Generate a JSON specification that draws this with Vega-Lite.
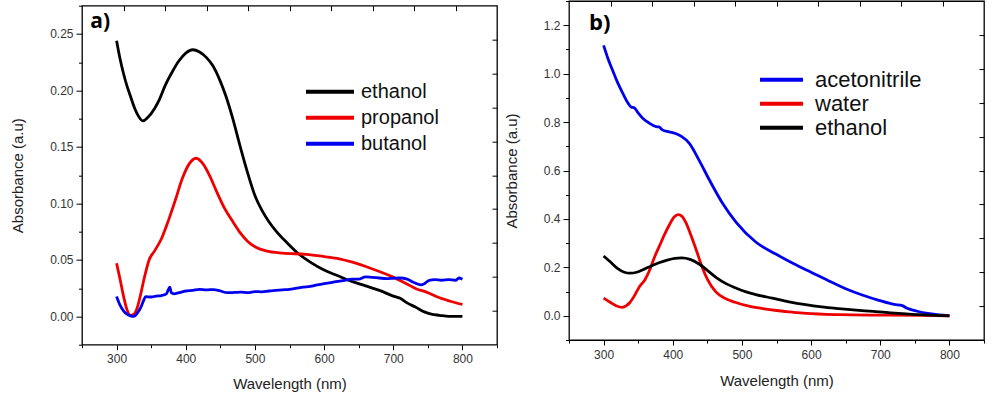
{
  "$schema": "https://vega.github.io/schema/vega-lite/v6.json",
  "background": "white",
  "padding": {"left": 9, "top": -1, "right": 0, "bottom": 0},
  "spacing": 4,
  "center": true,
  "datasets": {
    "left": [
      {"w": 300, "a": 0.244, "s": "ethanol"}, {"w": 305, "a": 0.228, "s": "ethanol"}, {"w": 310, "a": 0.215, "s": "ethanol"},
      {"w": 315, "a": 0.204, "s": "ethanol"}, {"w": 320, "a": 0.195, "s": "ethanol"}, {"w": 325, "a": 0.186, "s": "ethanol"},
      {"w": 330, "a": 0.179, "s": "ethanol"}, {"w": 338, "a": 0.173, "s": "ethanol"}, {"w": 345, "a": 0.176, "s": "ethanol"},
      {"w": 355, "a": 0.184, "s": "ethanol"}, {"w": 362, "a": 0.192, "s": "ethanol"}, {"w": 370, "a": 0.204, "s": "ethanol"},
      {"w": 381, "a": 0.217, "s": "ethanol"}, {"w": 390, "a": 0.226, "s": "ethanol"}, {"w": 400, "a": 0.233, "s": "ethanol"},
      {"w": 410, "a": 0.236, "s": "ethanol"}, {"w": 420, "a": 0.234, "s": "ethanol"}, {"w": 430, "a": 0.229, "s": "ethanol"},
      {"w": 439, "a": 0.222, "s": "ethanol"}, {"w": 450, "a": 0.208, "s": "ethanol"}, {"w": 458, "a": 0.195, "s": "ethanol"},
      {"w": 468, "a": 0.175, "s": "ethanol"}, {"w": 478, "a": 0.152, "s": "ethanol"}, {"w": 490, "a": 0.126, "s": "ethanol"},
      {"w": 500, "a": 0.107, "s": "ethanol"}, {"w": 510, "a": 0.094, "s": "ethanol"}, {"w": 520, "a": 0.084, "s": "ethanol"},
      {"w": 530, "a": 0.076, "s": "ethanol"}, {"w": 545, "a": 0.066, "s": "ethanol"}, {"w": 560, "a": 0.057, "s": "ethanol"},
      {"w": 580, "a": 0.048, "s": "ethanol"}, {"w": 600, "a": 0.041, "s": "ethanol"}, {"w": 620, "a": 0.036, "s": "ethanol"},
      {"w": 640, "a": 0.031, "s": "ethanol"}, {"w": 660, "a": 0.027, "s": "ethanol"}, {"w": 680, "a": 0.023, "s": "ethanol"},
      {"w": 700, "a": 0.018, "s": "ethanol"}, {"w": 710, "a": 0.016, "s": "ethanol"}, {"w": 720, "a": 0.012, "s": "ethanol"},
      {"w": 733, "a": 0.008, "s": "ethanol"}, {"w": 745, "a": 0.004, "s": "ethanol"}, {"w": 755, "a": 0.002, "s": "ethanol"},
      {"w": 767, "a": 0.001, "s": "ethanol"}, {"w": 780, "a": 0.0, "s": "ethanol"}, {"w": 800, "a": 0.0, "s": "ethanol"},

      {"w": 300, "a": 0.047, "s": "propanol"}, {"w": 305, "a": 0.033, "s": "propanol"}, {"w": 310, "a": 0.018, "s": "propanol"},
      {"w": 315, "a": 0.006, "s": "propanol"}, {"w": 320, "a": 0.001, "s": "propanol"}, {"w": 325, "a": 0.002, "s": "propanol"},
      {"w": 330, "a": 0.008, "s": "propanol"}, {"w": 335, "a": 0.020, "s": "propanol"}, {"w": 340, "a": 0.034, "s": "propanol"},
      {"w": 347, "a": 0.050, "s": "propanol"}, {"w": 355, "a": 0.058, "s": "propanol"}, {"w": 365, "a": 0.069, "s": "propanol"},
      {"w": 375, "a": 0.085, "s": "propanol"}, {"w": 385, "a": 0.103, "s": "propanol"}, {"w": 395, "a": 0.122, "s": "propanol"},
      {"w": 405, "a": 0.135, "s": "propanol"}, {"w": 415, "a": 0.140, "s": "propanol"}, {"w": 425, "a": 0.135, "s": "propanol"},
      {"w": 435, "a": 0.124, "s": "propanol"}, {"w": 445, "a": 0.110, "s": "propanol"}, {"w": 455, "a": 0.097, "s": "propanol"},
      {"w": 468, "a": 0.084, "s": "propanol"}, {"w": 480, "a": 0.073, "s": "propanol"}, {"w": 490, "a": 0.066, "s": "propanol"},
      {"w": 502, "a": 0.061, "s": "propanol"}, {"w": 516, "a": 0.058, "s": "propanol"}, {"w": 540, "a": 0.056, "s": "propanol"},
      {"w": 574, "a": 0.055, "s": "propanol"}, {"w": 600, "a": 0.053, "s": "propanol"}, {"w": 622, "a": 0.051, "s": "propanol"},
      {"w": 641, "a": 0.048, "s": "propanol"}, {"w": 670, "a": 0.042, "s": "propanol"}, {"w": 699, "a": 0.035, "s": "propanol"},
      {"w": 719, "a": 0.029, "s": "propanol"}, {"w": 733, "a": 0.0245, "s": "propanol"}, {"w": 748, "a": 0.0215, "s": "propanol"},
      {"w": 767, "a": 0.0165, "s": "propanol"}, {"w": 785, "a": 0.013, "s": "propanol"}, {"w": 800, "a": 0.0106, "s": "propanol"},

      {"w": 300, "a": 0.0177, "s": "butanol"}, {"w": 305, "a": 0.010, "s": "butanol"}, {"w": 310, "a": 0.005, "s": "butanol"},
      {"w": 315, "a": 0.002, "s": "butanol"}, {"w": 320, "a": 0.0005, "s": "butanol"}, {"w": 325, "a": 0.0, "s": "butanol"},
      {"w": 330, "a": 0.003, "s": "butanol"}, {"w": 335, "a": 0.008, "s": "butanol"}, {"w": 339, "a": 0.014, "s": "butanol"},
      {"w": 342, "a": 0.0175, "s": "butanol"}, {"w": 350, "a": 0.0172, "s": "butanol"}, {"w": 357, "a": 0.018, "s": "butanol"},
      {"w": 365, "a": 0.0185, "s": "butanol"}, {"w": 372, "a": 0.020, "s": "butanol"}, {"w": 375, "a": 0.024, "s": "butanol"},
      {"w": 377, "a": 0.026, "s": "butanol"}, {"w": 379, "a": 0.021, "s": "butanol"}, {"w": 383, "a": 0.020, "s": "butanol"},
      {"w": 390, "a": 0.021, "s": "butanol"}, {"w": 400, "a": 0.0225, "s": "butanol"}, {"w": 410, "a": 0.023, "s": "butanol"},
      {"w": 420, "a": 0.024, "s": "butanol"}, {"w": 430, "a": 0.0235, "s": "butanol"}, {"w": 440, "a": 0.0238, "s": "butanol"},
      {"w": 450, "a": 0.0225, "s": "butanol"}, {"w": 460, "a": 0.021, "s": "butanol"}, {"w": 470, "a": 0.0212, "s": "butanol"},
      {"w": 480, "a": 0.0215, "s": "butanol"}, {"w": 490, "a": 0.021, "s": "butanol"}, {"w": 500, "a": 0.022, "s": "butanol"},
      {"w": 510, "a": 0.0218, "s": "butanol"}, {"w": 520, "a": 0.0225, "s": "butanol"}, {"w": 530, "a": 0.023, "s": "butanol"},
      {"w": 540, "a": 0.0235, "s": "butanol"}, {"w": 550, "a": 0.024, "s": "butanol"}, {"w": 560, "a": 0.025, "s": "butanol"},
      {"w": 570, "a": 0.026, "s": "butanol"}, {"w": 580, "a": 0.0265, "s": "butanol"}, {"w": 590, "a": 0.028, "s": "butanol"},
      {"w": 600, "a": 0.029, "s": "butanol"}, {"w": 610, "a": 0.030, "s": "butanol"}, {"w": 620, "a": 0.031, "s": "butanol"},
      {"w": 630, "a": 0.032, "s": "butanol"}, {"w": 640, "a": 0.033, "s": "butanol"}, {"w": 650, "a": 0.033, "s": "butanol"},
      {"w": 660, "a": 0.035, "s": "butanol"}, {"w": 670, "a": 0.0345, "s": "butanol"}, {"w": 680, "a": 0.034, "s": "butanol"},
      {"w": 690, "a": 0.0335, "s": "butanol"}, {"w": 700, "a": 0.0338, "s": "butanol"}, {"w": 710, "a": 0.034, "s": "butanol"},
      {"w": 720, "a": 0.033, "s": "butanol"}, {"w": 730, "a": 0.030, "s": "butanol"}, {"w": 740, "a": 0.028, "s": "butanol"},
      {"w": 745, "a": 0.029, "s": "butanol"}, {"w": 752, "a": 0.032, "s": "butanol"}, {"w": 760, "a": 0.0325, "s": "butanol"},
      {"w": 770, "a": 0.032, "s": "butanol"}, {"w": 780, "a": 0.0325, "s": "butanol"}, {"w": 790, "a": 0.032, "s": "butanol"},
      {"w": 795, "a": 0.034, "s": "butanol"}, {"w": 800, "a": 0.033, "s": "butanol"}
    ],
    "right": [
      {"w": 300, "a": 1.117, "s": "acetonitrile"}, {"w": 306, "a": 1.065, "s": "acetonitrile"}, {"w": 313, "a": 1.014, "s": "acetonitrile"},
      {"w": 320, "a": 0.965, "s": "acetonitrile"}, {"w": 328, "a": 0.918, "s": "acetonitrile"}, {"w": 335, "a": 0.880, "s": "acetonitrile"},
      {"w": 340, "a": 0.862, "s": "acetonitrile"}, {"w": 344, "a": 0.860, "s": "acetonitrile"}, {"w": 350, "a": 0.838, "s": "acetonitrile"},
      {"w": 357, "a": 0.815, "s": "acetonitrile"}, {"w": 366, "a": 0.796, "s": "acetonitrile"}, {"w": 376, "a": 0.781, "s": "acetonitrile"},
      {"w": 380, "a": 0.780, "s": "acetonitrile"}, {"w": 385, "a": 0.768, "s": "acetonitrile"}, {"w": 395, "a": 0.760, "s": "acetonitrile"},
      {"w": 405, "a": 0.752, "s": "acetonitrile"}, {"w": 412, "a": 0.742, "s": "acetonitrile"}, {"w": 424, "a": 0.712, "s": "acetonitrile"},
      {"w": 438, "a": 0.643, "s": "acetonitrile"}, {"w": 453, "a": 0.561, "s": "acetonitrile"}, {"w": 472, "a": 0.465, "s": "acetonitrile"},
      {"w": 492, "a": 0.385, "s": "acetonitrile"}, {"w": 520, "a": 0.305, "s": "acetonitrile"}, {"w": 549, "a": 0.255, "s": "acetonitrile"},
      {"w": 575, "a": 0.215, "s": "acetonitrile"}, {"w": 600, "a": 0.180, "s": "acetonitrile"}, {"w": 625, "a": 0.145, "s": "acetonitrile"},
      {"w": 650, "a": 0.112, "s": "acetonitrile"}, {"w": 675, "a": 0.085, "s": "acetonitrile"}, {"w": 698, "a": 0.064, "s": "acetonitrile"},
      {"w": 720, "a": 0.047, "s": "acetonitrile"}, {"w": 732, "a": 0.042, "s": "acetonitrile"}, {"w": 738, "a": 0.032, "s": "acetonitrile"},
      {"w": 752, "a": 0.020, "s": "acetonitrile"}, {"w": 766, "a": 0.011, "s": "acetonitrile"}, {"w": 785, "a": 0.004, "s": "acetonitrile"},
      {"w": 800, "a": 0.001, "s": "acetonitrile"},

      {"w": 300, "a": 0.073, "s": "water"}, {"w": 310, "a": 0.055, "s": "water"}, {"w": 318, "a": 0.042, "s": "water"},
      {"w": 327, "a": 0.035, "s": "water"}, {"w": 333, "a": 0.042, "s": "water"}, {"w": 338, "a": 0.055, "s": "water"},
      {"w": 345, "a": 0.085, "s": "water"}, {"w": 352, "a": 0.121, "s": "water"}, {"w": 360, "a": 0.150, "s": "water"},
      {"w": 366, "a": 0.185, "s": "water"}, {"w": 374, "a": 0.245, "s": "water"}, {"w": 381, "a": 0.290, "s": "water"},
      {"w": 388, "a": 0.335, "s": "water"}, {"w": 395, "a": 0.375, "s": "water"}, {"w": 402, "a": 0.408, "s": "water"},
      {"w": 408, "a": 0.418, "s": "water"}, {"w": 413, "a": 0.412, "s": "water"}, {"w": 419, "a": 0.385, "s": "water"},
      {"w": 426, "a": 0.335, "s": "water"}, {"w": 434, "a": 0.272, "s": "water"}, {"w": 442, "a": 0.205, "s": "water"},
      {"w": 450, "a": 0.152, "s": "water"}, {"w": 462, "a": 0.100, "s": "water"}, {"w": 475, "a": 0.073, "s": "water"},
      {"w": 490, "a": 0.056, "s": "water"}, {"w": 510, "a": 0.040, "s": "water"}, {"w": 530, "a": 0.030, "s": "water"},
      {"w": 550, "a": 0.022, "s": "water"}, {"w": 570, "a": 0.016, "s": "water"}, {"w": 593, "a": 0.010, "s": "water"},
      {"w": 640, "a": 0.005, "s": "water"}, {"w": 700, "a": 0.003, "s": "water"}, {"w": 760, "a": 0.002, "s": "water"},
      {"w": 800, "a": 0.0, "s": "water"},

      {"w": 300, "a": 0.247, "s": "ethanol"}, {"w": 310, "a": 0.222, "s": "ethanol"}, {"w": 320, "a": 0.196, "s": "ethanol"},
      {"w": 330, "a": 0.180, "s": "ethanol"}, {"w": 338, "a": 0.176, "s": "ethanol"}, {"w": 348, "a": 0.180, "s": "ethanol"},
      {"w": 358, "a": 0.192, "s": "ethanol"}, {"w": 368, "a": 0.205, "s": "ethanol"}, {"w": 380, "a": 0.219, "s": "ethanol"},
      {"w": 392, "a": 0.230, "s": "ethanol"}, {"w": 403, "a": 0.237, "s": "ethanol"}, {"w": 413, "a": 0.239, "s": "ethanol"},
      {"w": 425, "a": 0.233, "s": "ethanol"}, {"w": 438, "a": 0.214, "s": "ethanol"}, {"w": 450, "a": 0.188, "s": "ethanol"},
      {"w": 463, "a": 0.158, "s": "ethanol"}, {"w": 477, "a": 0.133, "s": "ethanol"}, {"w": 492, "a": 0.114, "s": "ethanol"},
      {"w": 505, "a": 0.100, "s": "ethanol"}, {"w": 520, "a": 0.088, "s": "ethanol"}, {"w": 544, "a": 0.073, "s": "ethanol"},
      {"w": 568, "a": 0.058, "s": "ethanol"}, {"w": 592, "a": 0.046, "s": "ethanol"}, {"w": 615, "a": 0.037, "s": "ethanol"},
      {"w": 640, "a": 0.030, "s": "ethanol"}, {"w": 665, "a": 0.024, "s": "ethanol"}, {"w": 690, "a": 0.018, "s": "ethanol"},
      {"w": 715, "a": 0.012, "s": "ethanol"}, {"w": 737, "a": 0.008, "s": "ethanol"}, {"w": 770, "a": 0.003, "s": "ethanol"},
      {"w": 800, "a": 0.0, "s": "ethanol"}
    ]
  },
  "resolve": {
    "scale": {"x": "independent", "y": "independent", "color": "independent"},
    "legend": {"color": "independent"}
  },
  "hconcat": [
    {
      "width": 415,
      "height": 339,
      "resolve": {"axis": {"x": "independent", "y": "independent"}},
      "layer": [
        {
          "data": {"name": "left"},
          "mark": {"type": "line", "strokeWidth": 2.8, "interpolate": "monotone"},
          "encoding": {
            "x": {"field": "w", "type": "quantitative",
                  "scale": {"domain": [250, 850], "nice": false, "zero": false},
                  "axis": {"orient": "bottom", "values": [300, 400, 500, 600, 700, 800], "title": "Wavelength (nm)", "tickSize": 5, "labelPadding": 4, "titlePadding": 12}},
            "y": {"field": "a", "type": "quantitative",
                  "scale": {"domain": [-0.025, 0.275], "nice": false, "zero": false},
                  "axis": {"orient": "left", "values": [0, 0.05, 0.1, 0.15, 0.2, 0.25], "format": ".2f", "title": "Absorbance (a.u)", "tickSize": 6, "labelPadding": 3, "titlePadding": 24}},
            "color": {"field": "s", "type": "nominal",
                      "scale": {"domain": ["ethanol", "propanol", "butanol"], "range": ["#000000", "#ee0000", "#0000ee"]},
                      "legend": {"orient": "none", "legendX": 222, "legendY": 73, "title": null, "symbolType": "stroke", "symbolSize": 2304, "symbolStrokeWidth": 4, "clipHeight": 26, "labelFontSize": 20, "labelOffset": 5, "rowPadding": 0, "labelColor": "#111"}}
          }
        },
        {
          "data": {"values": [{"label": "a)"}]},
          "mark": {"type": "text", "fontSize": 21, "fontWeight": "bold", "font": "Open Sans", "align": "left", "baseline": "alphabetic", "color": "#000"},
          "encoding": {
            "text": {"field": "label"},
            "x": {"datum": 262, "type": "quantitative",
                  "axis": {"orient": "top", "values": [310, 370, 430, 490, 550, 610, 670, 730, 790], "labels": false, "title": null, "tickSize": -5}},
            "y": {"datum": 0.2555, "type": "quantitative",
                  "axis": {"orient": "right", "values": [0.245, 0.215, 0.185, 0.155, 0.125, 0.095, 0.065, 0.035, 0.005], "labels": false, "title": null, "tickSize": -5}}
          }
        },
        {
          "data": {"values": [{"label": ""}]},
          "mark": {"type": "point", "opacity": 0},
          "encoding": {
            "x": {"datum": 300, "type": "quantitative",
                  "axis": {"orient": "bottom", "values": [250, 350, 450, 550, 650, 750, 850], "labels": false, "title": null, "tickSize": 3}},
            "y": {"datum": 0, "type": "quantitative",
                  "axis": {"orient": "left", "values": [-0.025, 0.025, 0.075, 0.125, 0.175, 0.225, 0.275], "labels": false, "title": null, "tickSize": 3.5}}
          }
        }
      ]
    },
    {
      "width": 415,
      "height": 339,
      "resolve": {"axis": {"x": "independent", "y": "independent"}},
      "layer": [
        {
          "data": {"name": "right"},
          "mark": {"type": "line", "strokeWidth": 2.8, "interpolate": "monotone"},
          "encoding": {
            "x": {"field": "w", "type": "quantitative",
                  "scale": {"domain": [250, 850], "nice": false, "zero": false},
                  "axis": {"orient": "bottom", "values": [300, 400, 500, 600, 700, 800], "title": "Wavelength (nm)", "tickSize": 5, "labelPadding": 4, "titlePadding": 13}},
            "y": {"field": "a", "type": "quantitative",
                  "scale": {"domain": [-0.1, 1.3], "nice": false, "zero": false},
                  "axis": {"orient": "left", "values": [0, 0.2, 0.4, 0.6, 0.8, 1.0, 1.2], "format": ".1f", "title": "Absorbance (a.u)", "tickSize": 6, "labelPadding": 3, "titlePadding": 24}},
            "color": {"field": "s", "type": "nominal",
                      "scale": {"domain": ["acetonitrile", "water", "ethanol"], "range": ["#0000ee", "#ee0000", "#000000"]},
                      "legend": {"orient": "none", "legendX": 189, "legendY": 67, "title": null, "symbolType": "stroke", "symbolSize": 1849, "symbolStrokeWidth": 4, "clipHeight": 23.5, "labelFontSize": 22, "labelOffset": 10, "rowPadding": 0, "labelColor": "#111"}}
          }
        },
        {
          "data": {"values": [{"label": "b)"}]},
          "mark": {"type": "text", "fontSize": 22, "fontWeight": "bold", "font": "Open Sans", "align": "left", "baseline": "alphabetic", "color": "#000"},
          "encoding": {
            "text": {"field": "label"},
            "x": {"datum": 279, "type": "quantitative",
                  "axis": {"orient": "top", "values": [310, 370, 430, 490, 550, 610, 670, 730, 790], "labels": false, "title": null, "tickSize": -5}},
            "y": {"datum": 1.18, "type": "quantitative",
                  "axis": {"orient": "right", "values": [1.16, 1.02, 0.88, 0.74, 0.6, 0.46, 0.32, 0.18, 0.04], "labels": false, "title": null, "tickSize": -5}}
          }
        },
        {
          "data": {"values": [{"label": ""}]},
          "mark": {"type": "point", "opacity": 0},
          "encoding": {
            "x": {"datum": 300, "type": "quantitative",
                  "axis": {"orient": "bottom", "values": [250, 350, 450, 550, 650, 750, 850], "labels": false, "title": null, "tickSize": 3}},
            "y": {"datum": -0.321, "type": "quantitative",
                  "axis": {"orient": "left", "values": [-0.1, 0.1, 0.3, 0.5, 0.7, 0.9, 1.1, 1.3], "labels": false, "title": null, "tickSize": 3.5}}
          }
        }
      ]
    }
  ],
  "config": {
    "font": "Liberation Sans",
    "view": {"stroke": "#000000", "strokeWidth": 1.3},
    "axis": {
      "domain": false,
      "grid": false,
      "tickColor": "#000000",
      "tickWidth": 1,
      "labelFont": "Liberation Sans",
      "labelFontSize": 12,
      "labelColor": "#333333",
      "titleFont": "Liberation Sans",
      "titleFontSize": 15,
      "titleFontWeight": "normal",
      "titleColor": "#222222"
    },
    "legend": {"labelFont": "Liberation Sans"}
  }
}
